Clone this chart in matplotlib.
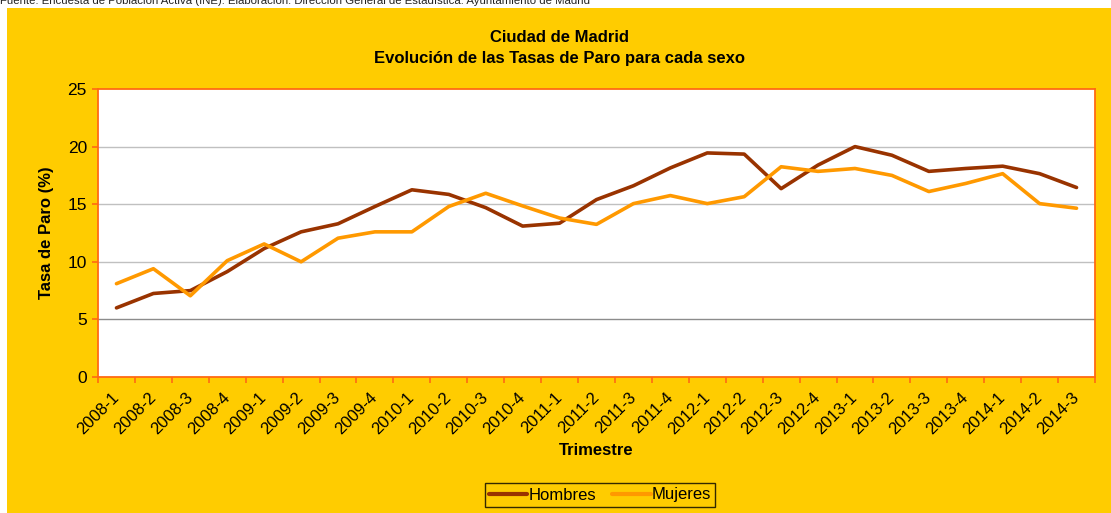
import matplotlib
matplotlib.use("Agg")
import matplotlib.pyplot as plt
from matplotlib.patches import Rectangle
from matplotlib.ticker import FixedLocator, MultipleLocator

plt.rcParams['font.family'] = ['Liberation Sans', 'DejaVu Sans']

trimestres = ["2008-1", "2008-2", "2008-3", "2008-4", "2009-1", "2009-2", "2009-3", "2009-4",
              "2010-1", "2010-2", "2010-3", "2010-4", "2011-1", "2011-2", "2011-3", "2011-4",
              "2012-1", "2012-2", "2012-3", "2012-4", "2013-1", "2013-2", "2013-3", "2013-4",
              "2014-1", "2014-2", "2014-3"]
hombres = [6.0, 7.25, 7.5, 9.15, 11.15, 12.6, 13.3, 14.8, 16.25, 15.85, 14.7, 13.1, 13.35,
           15.4, 16.6, 18.15, 19.45, 19.35, 16.35, 18.4, 20.0, 19.25, 17.85, 18.1, 18.3,
           17.65, 16.45]
mujeres = [8.1, 9.4, 7.05, 10.1, 11.55, 10.0, 12.05, 12.6, 12.6, 14.8, 15.95, 14.85, 13.8,
           13.25, 15.05, 15.75, 15.05, 15.65, 18.25, 17.85, 18.1, 17.5, 16.1, 16.8, 17.65,
           15.05, 14.65]

GOLD = '#FFCC00'
ORANGE_AX = '#FF6A13'

fig = plt.figure(figsize=(11.11, 5.13), dpi=100)
fig.patch.set_facecolor('white')
fig.add_artist(Rectangle((7 / 1111, 0), 1 - 7 / 1111, (513 - 8) / 513,
                         transform=fig.transFigure, facecolor=GOLD, edgecolor='none', zorder=0))
fig.text(0.0, 1.0 - 3.5 / 513,
         "Fuente: Encuesta de Población Activa (INE). Elaboración: Dirección General de Estadística. Ayuntamiento de Madrid",
         fontsize=8.2, ha='left', va='baseline', color='#222222')

ax = fig.add_axes([98 / 1111, (513 - 377) / 513, 997 / 1111, 288 / 513])
ax.set_facecolor('white')
x = list(range(len(trimestres)))
ax.plot(x, hombres, color='#993300', lw=2.6, label='Hombres', solid_capstyle='round', zorder=3)
ax.plot(x, mujeres, color='#FF9900', lw=2.6, label='Mujeres', solid_capstyle='round', zorder=3)

ax.set_xlim(-0.5, len(trimestres) - 0.5)
ax.set_ylim(0, 25)
ax.yaxis.set_major_locator(MultipleLocator(5))
for v in [5, 10, 15, 20]:
    ax.axhline(v, color='#8C8C8C' if v == 5 else '#C0C0C0', lw=1.0, zorder=1)

ax.set_xticks(x)
ax.set_xticklabels(trimestres, rotation=45, ha='right', va='center', rotation_mode='anchor', fontsize=12)
ax.xaxis.set_minor_locator(FixedLocator([i - 0.5 for i in range(len(trimestres) + 1)]))
ax.tick_params(axis='x', which='major', length=0, pad=13)
ax.tick_params(axis='x', which='minor', length=4, color=ORANGE_AX, width=1.2, direction='out')
ax.tick_params(axis='y', which='major', length=4, color=ORANGE_AX, width=1.2, labelsize=12.5, pad=4)
for s in ax.spines.values():
    s.set_color(ORANGE_AX)
    s.set_linewidth(1.3)

ax.set_xlabel('Trimestre', fontsize=12, fontweight='bold', labelpad=4)
ax.set_ylabel('Tasa de Paro (%)', fontsize=12, fontweight='bold', labelpad=10)

fig.text(560 / 1111, 1 - 37 / 513, 'Ciudad de Madrid', ha='center', va='center', fontsize=12, fontweight='bold')
fig.text(560 / 1111, 1 - 58 / 513, 'Evolución de las Tasas de Paro para cada sexo', ha='center', va='center',
         fontsize=12, fontweight='bold')

leg = fig.legend(loc='center', bbox_to_anchor=(600 / 1111, 1 - 495 / 513), ncol=2, frameon=True,
                 fontsize=12, handlelength=2.3, handletextpad=0.05, columnspacing=1.0,
                 borderpad=0.25, fancybox=False)
leg.get_frame().set_edgecolor('black')
leg.get_frame().set_facecolor(GOLD)
leg.get_frame().set_linewidth(1.0)
for line in leg.get_lines():
    line.set_linewidth(3)

fig.savefig('out.png', dpi=100, facecolor=fig.get_facecolor())
